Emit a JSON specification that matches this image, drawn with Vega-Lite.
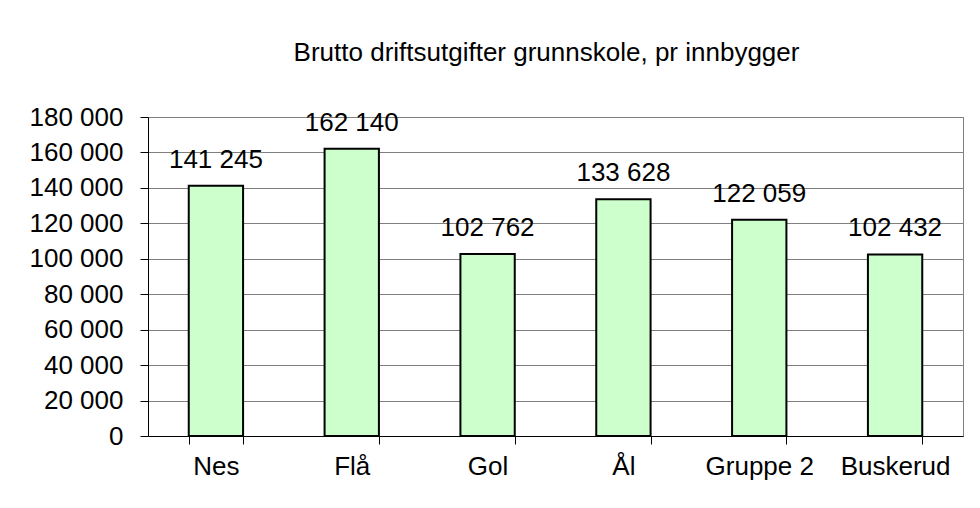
{
  "$schema": "https://vega.github.io/schema/vega-lite/v6.json",
  "width": 815,
  "height": 319,
  "autosize": {"type": "none"},
  "padding": {"left": 148, "top": 117, "right": 17, "bottom": 72},
  "background": "white",
  "title": {
    "text": "Brutto driftsutgifter grunnskole, pr innbygger",
    "font": "Liberation Sans",
    "fontSize": 26,
    "fontWeight": "normal",
    "color": "black",
    "anchor": "middle",
    "baseline": "alphabetic",
    "offset": 17,
    "dx": -9
  },
  "config": {
    "locale": {"number": {"decimal": ",", "thousands": " ", "grouping": [3], "currency": ["", ""]}},
    "view": {"stroke": "#808080", "strokeWidth": 1},
    "font": "Liberation Sans",
    "axis": {"labelFont": "Liberation Sans", "labelFontSize": 26, "labelColor": "black"}
  },
  "data": {
    "values": [
      {"region": "Nes", "value": 141245},
      {"region": "Flå", "value": 162140},
      {"region": "Gol", "value": 102762},
      {"region": "Ål", "value": 133628},
      {"region": "Gruppe 2", "value": 122059},
      {"region": "Buskerud", "value": 102432}
    ]
  },
  "encoding": {
    "x": {
      "field": "region",
      "type": "nominal",
      "sort": null,
      "scale": {"paddingInner": 0.6, "paddingOuter": 0.3},
      "axis": {
        "title": null,
        "labelAngle": 0,
        "tickBand": "extent",
        "tickSize": 8,
        "tickColor": "black",
        "domainColor": "black",
        "domainWidth": 1,
        "labelPadding": 9,
        "grid": false
      }
    },
    "y": {
      "field": "value",
      "type": "quantitative",
      "scale": {"domain": [0, 180000], "nice": false},
      "axis": {
        "title": null,
        "values": [0, 20000, 40000, 60000, 80000, 100000, 120000, 140000, 160000, 180000],
        "format": ",d",
        "tickSize": 8,
        "tickColor": "black",
        "domainColor": "black",
        "labelPadding": 17,
        "grid": true,
        "gridColor": "#808080",
        "gridOpacity": 1
      }
    }
  },
  "layer": [
    {
      "mark": {"type": "bar", "fill": "#CCFFCC", "stroke": "black", "strokeWidth": 2}
    },
    {
      "mark": {"type": "text", "fontSize": 26, "baseline": "alphabetic", "dy": -18, "color": "black", "font": "Liberation Sans"},
      "encoding": {"text": {"field": "value", "type": "quantitative", "format": ",d"}}
    }
  ]
}
